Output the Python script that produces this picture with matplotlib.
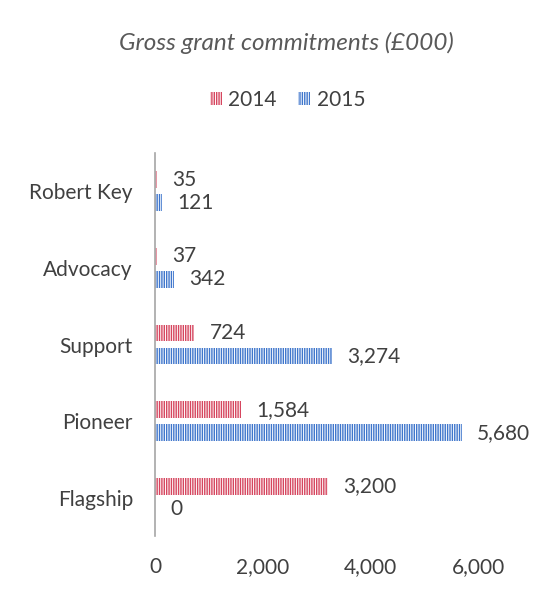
import matplotlib
matplotlib.use("Agg")
import matplotlib.pyplot as plt
import matplotlib.patches as mpatches
import numpy as np

categories = ["Robert Key", "Advocacy", "Support", "Pioneer", "Flagship"]
values_2014 = [35, 37, 724, 1584, 3200]
values_2015 = [121, 342, 3274, 5680, 0]
series_names = ["2014", "2015"]
xticks = [0, 2000, 4000, 6000]

c14 = "#d6465f"
c15 = "#3f76cc"
grey_text = "#404040"
hatch = "|||||||"

plt.rcParams["font.family"] = ["Lato", "DejaVu Sans"]
plt.rcParams["hatch.linewidth"] = 0.7

fig = plt.figure(figsize=(5.58, 5.93), dpi=100)
ax = fig.add_axes([0.278, 0.096, 0.580, 0.646])

y = np.arange(len(categories))
h = 0.22
off = 0.15
b1 = ax.barh(y - off, values_2014, height=h, color=c14, edgecolor="white",
             linewidth=0, hatch=hatch)
b2 = ax.barh(y + off, values_2015, height=h, color=c15, edgecolor="white",
             linewidth=0, hatch=hatch)

fs = 15
for bars, vals in ((b1, values_2014), (b2, values_2015)):
    for rect, v in zip(bars, vals):
        ax.annotate(f"{v:,}", (rect.get_width(), rect.get_y() + rect.get_height() / 2),
                    xytext=(11, 0), textcoords="offset points", va="center", ha="left",
                    fontsize=fs, color=grey_text, annotation_clip=False)

ax.set_ylim(len(categories) - 0.5, -0.5)
ax.set_xlim(0, 6000)
ax.set_yticks(y)
ax.set_yticklabels(categories, fontsize=fs, color=grey_text)
ax.set_xticks(xticks)
ax.set_xticklabels([f"{t:,}" for t in xticks], fontsize=fs, color=grey_text)
ax.tick_params(axis="both", length=0)
ax.tick_params(axis="y", pad=16)
ax.tick_params(axis="x", pad=15)
for s in ["top", "right", "bottom"]:
    ax.spines[s].set_visible(False)
ax.spines["left"].set_color("#a6a6a6")
ax.spines["left"].set_linewidth(1.2)

fig.text(0.513, 1 - 43 / 593, "Gross grant commitments (£000)", ha="center", va="center",
         fontsize=17.5, style="italic", color="#595959")

handles = [mpatches.Patch(facecolor=c14, edgecolor="white", linewidth=0, hatch=hatch),
           mpatches.Patch(facecolor=c15, edgecolor="white", linewidth=0, hatch=hatch)]
fig.legend(handles, series_names, loc="center", bbox_to_anchor=(0.515, 1 - 100 / 593),
           ncol=2, frameon=False, fontsize=fs, handlelength=0.6, handleheight=0.6,
           handletextpad=0.3, columnspacing=1.0, labelcolor=grey_text)

fig.savefig("out.png", dpi=100, facecolor="white")
